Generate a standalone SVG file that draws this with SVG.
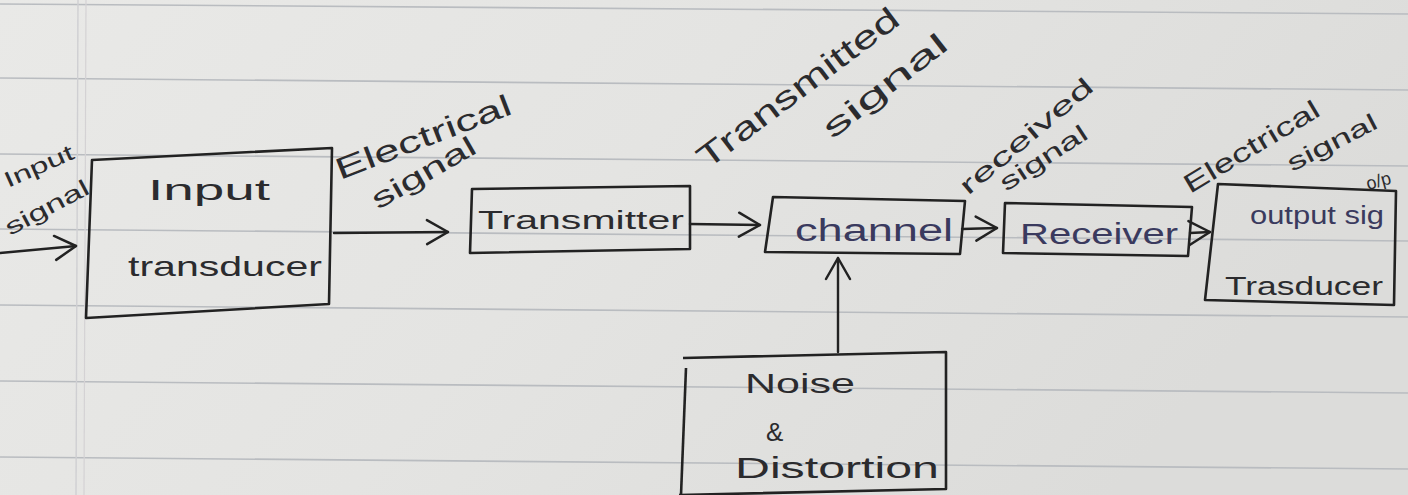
<svg xmlns="http://www.w3.org/2000/svg" width="1408" height="495" viewBox="0 0 1408 495">
<defs>
<linearGradient id="paper" x1="0" y1="0" x2="1" y2="0.3">
<stop offset="0" stop-color="#e9e9e7"/>
<stop offset="0.5" stop-color="#e4e4e2"/>
<stop offset="1" stop-color="#dcdcda"/>
</linearGradient>
<marker id="arr" viewBox="0 0 12 12" refX="11" refY="6" markerWidth="12" markerHeight="12" markerUnits="userSpaceOnUse" orient="auto" overflow="visible">
<path d="M-10,-6 L11,6 L-10,18" fill="none" stroke="#222" stroke-width="2.5" stroke-linecap="round" stroke-linejoin="round"/>
</marker>
<style>
.box{fill:none;stroke:#222;stroke-width:2.6;stroke-linejoin:round}
.con{fill:none;stroke:#222;stroke-width:2.4;stroke-linecap:round}
.t{font-family:"Liberation Sans","DejaVu Sans",sans-serif;fill:#2b2b2e}
.b{fill:#3a3a5e}
.rule{stroke:#b9bcc0;stroke-width:1.6}
</style>
</defs>
<rect x="0" y="0" width="1408" height="495" fill="url(#paper)"/>
<g id="paper-lines">
<line class="rule" x1="0" y1="4" x2="1408" y2="14"/>
<line class="rule" x1="0" y1="78" x2="1408" y2="90"/>
<line class="rule" x1="0" y1="154" x2="1408" y2="166"/>
<line class="rule" x1="0" y1="229" x2="1408" y2="241"/>
<line class="rule" x1="0" y1="305" x2="1408" y2="317"/>
<line class="rule" x1="0" y1="381" x2="1408" y2="393"/>
<line class="rule" x1="0" y1="457" x2="1408" y2="469"/>
<line x1="78" y1="0" x2="76" y2="495" stroke="#cfcfd2" stroke-width="1.4"/>
<line x1="86" y1="0" x2="84" y2="495" stroke="#d4d2d4" stroke-width="1.2"/>
</g>
<g id="connectors">
<path class="con" d="M0,253 L76,246" marker-end="url(#arr)"/>
<path class="con" d="M334,233 L448,232" marker-end="url(#arr)"/>
<path class="con" d="M690,224 L760,225" marker-end="url(#arr)"/>
<path class="con" d="M962,229 L997,228" marker-end="url(#arr)"/>
<path class="con" d="M1190,233 L1210,232" marker-end="url(#arr)"/>
<path class="con" d="M838,352 L838,258" marker-end="url(#arr)"/>
</g>
<g id="lbl-input-signal">
<text class="t" font-size="22" transform="translate(8,188) rotate(-24)" textLength="74" lengthAdjust="spacingAndGlyphs">Input</text>
<text class="t" font-size="23" transform="translate(10,236) rotate(-28)" textLength="92" lengthAdjust="spacingAndGlyphs">signal</text>
</g>
<g id="input-transducer">
<path class="box" d="M92,160 L332,148 L329,304 L86,318 Z"/>
<text class="t" font-size="30" x="148" y="200" textLength="122" lengthAdjust="spacingAndGlyphs">Input</text>
<text class="t" font-size="28" x="128" y="276" textLength="194" lengthAdjust="spacingAndGlyphs">transducer</text>
</g>
<g id="lbl-electrical-1">
<text class="t" font-size="30" transform="translate(340,180) rotate(-21)" textLength="186" lengthAdjust="spacingAndGlyphs">Electrical</text>
<text class="t" font-size="28" transform="translate(378,210) rotate(-30)" textLength="116" lengthAdjust="spacingAndGlyphs">signal</text>
</g>
<g id="transmitter">
<path class="box" d="M472,189 L690,186 L690,249 L470,253 Z"/>
<text class="t" font-size="26" x="478" y="229" textLength="206" lengthAdjust="spacingAndGlyphs">Transmitter</text>
</g>
<g id="lbl-transmitted">
<text class="t" font-size="32" transform="translate(707,170) rotate(-37)" textLength="244" lengthAdjust="spacingAndGlyphs">Transmitted</text>
<text class="t" font-size="30" transform="translate(832,140) rotate(-38)" textLength="150" lengthAdjust="spacingAndGlyphs">signal</text>
</g>
<g id="channel">
<path class="box" d="M773,197 L965,201 L960,254 L765,252 Z"/>
<text class="t b" font-size="31" x="795" y="241" textLength="158" lengthAdjust="spacingAndGlyphs">channel</text>
</g>
<g id="lbl-received">
<text class="t" font-size="25" transform="translate(968,196) rotate(-40)" textLength="166" lengthAdjust="spacingAndGlyphs">received</text>
<text class="t" font-size="24" transform="translate(1006,192) rotate(-33)" textLength="100" lengthAdjust="spacingAndGlyphs">signal</text>
</g>
<g id="receiver">
<path class="box" d="M1005,203 L1192,207 L1188,256 L1003,253 Z"/>
<text class="t b" font-size="29" x="1020" y="244" textLength="158" lengthAdjust="spacingAndGlyphs">Receiver</text>
</g>
<g id="lbl-electrical-2">
<text class="t" font-size="26" transform="translate(1190,194) rotate(-31)" textLength="154" lengthAdjust="spacingAndGlyphs">Electrical</text>
<text class="t" font-size="24" transform="translate(1292,172) rotate(-27)" textLength="98" lengthAdjust="spacingAndGlyphs">signal</text>
<text class="t" font-size="18" transform="translate(1368,190) rotate(-15)">o/p</text>
</g>
<g id="output-transducer">
<path class="box" d="M1218,184 L1396,191 L1394,305 L1205,300 Z"/>
<text class="t b" font-size="26" x="1250" y="224" textLength="134" lengthAdjust="spacingAndGlyphs">output sig</text>
<text class="t" font-size="26" x="1225" y="295" textLength="158" lengthAdjust="spacingAndGlyphs">Trasducer</text>
</g>
<g id="noise-distortion">
<path class="box" d="M683,358 L946,352 L946,489 L679,495"/>
<path class="box" d="M686,368 L681,495"/>
<text class="t" font-size="28" x="745" y="393" textLength="110" lengthAdjust="spacingAndGlyphs">Noise</text>
<text class="t" font-size="26" x="766" y="441">&amp;</text>
<text class="t" font-size="30" x="735" y="478" textLength="204" lengthAdjust="spacingAndGlyphs">Distortion</text>
</g>
</svg>
